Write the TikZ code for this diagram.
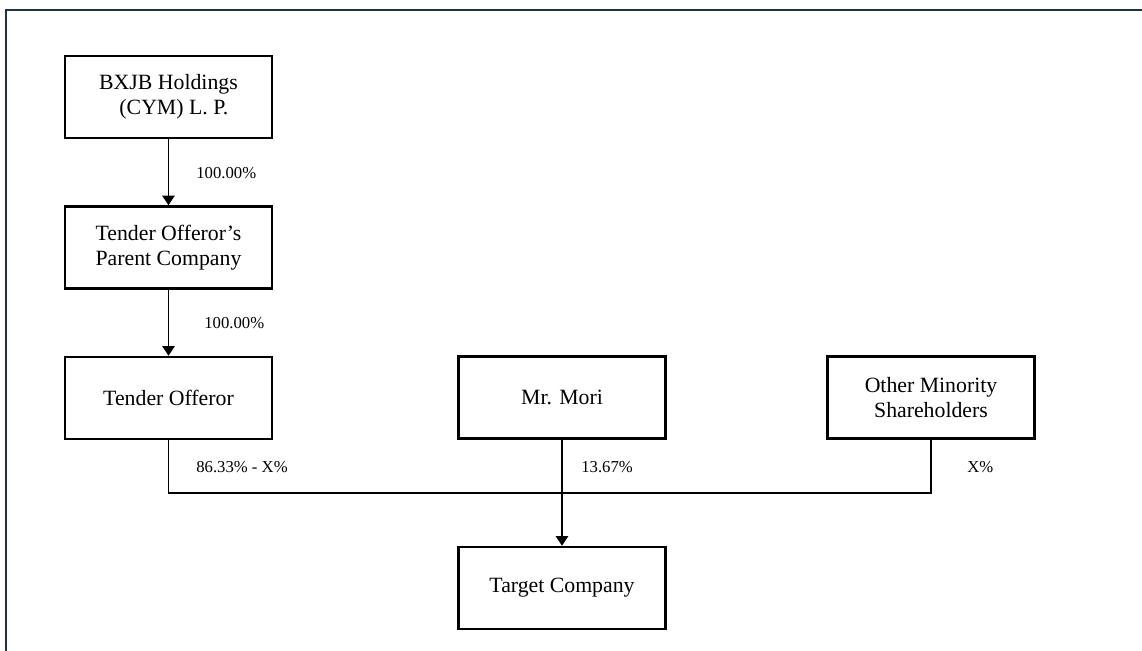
\documentclass[tikz,border=0pt]{standalone}
\usepackage{fontspec}
\setmainfont{Liberation Serif}
\usetikzlibrary{arrows.meta}

\definecolor{framecol}{HTML}{1E3344}

\begin{document}
\begin{tikzpicture}[x=0.02cm,y=-0.02cm,
    box/.style={draw,line width=1.4pt,minimum width=4.14cm,minimum height=1.64cm,
      inner sep=0pt,align=center,font=\fontsize{12.4}{14.5}\selectfont},
    pct/.style={anchor=west,inner sep=0pt,font=\fontsize{9.5}{11}\selectfont},
    own/.style={line width=1.1pt,-{Triangle[width=7pt,length=5.5pt]}}]
        \useasboundingbox (0,0) rectangle (1142,651);
        \draw[framecol,line width=1.4pt] (1142,10) -- (6,10) -- (6,651);
        % owners
        \node[box] (bxjb) at (168.5,97) {BXJB Holdings\\\hspace*{0.5em}(CYM) L. P.};
        \node[box] (parent) at (168.5,247.5) {Tender Offeror's\\Parent Company};
        \node[box] (offeror) at (168.5,398) {Tender Offeror};
        \node[box] (mori) at (562,397.5) {Mr. Mori};
        \node[box] (minority) at (931,397.5) {Other Minority\\Shareholders};
        \node[box] (target) at (562,588) {Target Company};
        \coordinate (bar) at (0,493);
        \draw[own] (bxjb) -- (parent);
        \draw[own] (parent) -- (offeror);
        \draw[line width=1.1pt] (offeror.south) -- (offeror.south |- bar) -- (minority.south |- bar) -- (minority.south);
        \draw[own] (mori) -- (target);
        % percentages
        \node[pct] (p1) at (196,173) {100.00\%};
        \node[pct] (p2) at (204,323) {100.00\%};
        \node[pct] (p3) at (196,467) {86.33\% - X\%};
        \node[pct] (p4) at (581,467) {13.67\%};
        \node[pct] (p5) at (967,467) {X\%};
      \end{tikzpicture}
\end{document}
